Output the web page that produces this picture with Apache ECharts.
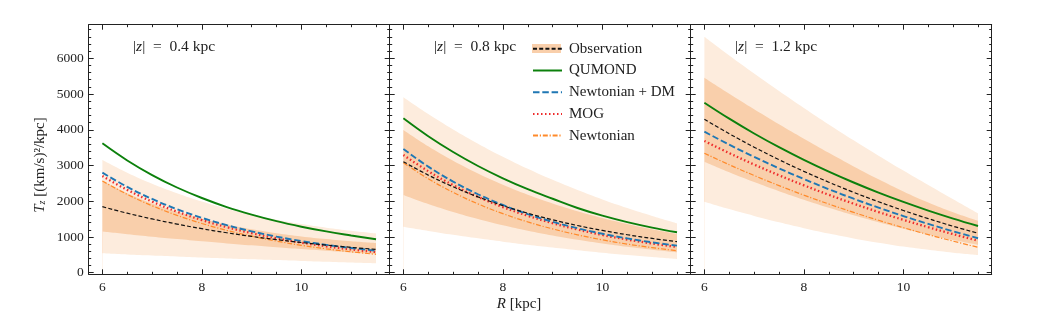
<!DOCTYPE html>
<html>
<head>
<meta charset="utf-8">
<title>T_z profiles</title>
<script src="https://cdn.jsdelivr.net/npm/echarts@6/dist/echarts.min.js"></script>
<style>
  html, body { margin: 0; padding: 0; background: #fff; }
  #chart { width: 1038px; height: 320px; }
</style>
</head>
<body>
<div id="chart"></div>
<script>
// galactocentric radius R (kpc), shared by every curve
var radius = [6, 6.5, 7, 7.5, 8, 8.5, 9, 9.5, 10, 10.5, 11, 11.5];
var zLabels = ['0.4', '0.8', '1.2'];
var xTicks = [6, 8, 10];
var xMinor = [6.5, 7, 7.5, 8.5, 9, 9.5, 10.5, 11, 11.5];
var yTicks = [0, 1000, 2000, 3000, 4000, 5000, 6000];
var yMinor = [200, 400, 600, 800, 1200, 1400, 1600, 1800, 2200, 2400, 2600, 2800, 3200, 3400, 3600, 3800,
  4200, 4400, 4600, 4800, 5200, 5400, 5600, 5800, 6200, 6400, 6600, 6800];

// |z| = 0.4 kpc
var obs04      = [1847, 1665, 1504, 1360, 1231, 1117, 1016, 925, 845, 773, 709, 653];
var qumond04   = [3620, 3141, 2732, 2384, 2090, 1837, 1625, 1441, 1287, 1155, 1042, 935];
var newtDM04   = [2800, 2401, 2063, 1777, 1535, 1330, 1157, 1010, 885, 780, 691, 616];
var mog04      = [2706, 2317, 1988, 1709, 1473, 1274, 1105, 962, 841, 738, 651, 578];
var newt04     = [2566, 2191, 1873, 1605, 1377, 1185, 1022, 884, 767, 668, 584, 514];
var outerHi04  = [3154, 2800, 2490, 2225, 1990, 1790, 1620, 1480, 1360, 1260, 1175, 1100];
var innerHi04  = [2570, 2224, 1938, 1702, 1507, 1347, 1214, 1105, 1015, 941, 879, 829];
var innerLo04  = [1150, 1075, 1005, 940, 878, 820, 765, 712, 660, 612, 565, 520];
var outerLo04  = [543, 510, 482, 455, 425, 398, 375, 352, 330, 308, 285, 263];

// |z| = 0.8 kpc
var obs08      = [3107, 2731, 2404, 2121, 1876, 1664, 1480, 1320, 1182, 1062, 958, 867];
var qumond08   = [4321, 3819, 3377, 2986, 2641, 2337, 2069, 1810, 1595, 1415, 1262, 1131];
var newtDM08   = [3462, 2968, 2549, 2195, 1895, 1641, 1426, 1244, 1090, 960, 849, 756];
var mog08      = [3294, 2840, 2452, 2120, 1836, 1593, 1385, 1208, 1056, 926, 815, 719];
var newt08     = [3079, 2629, 2248, 1925, 1652, 1421, 1226, 1060, 920, 801, 701, 616];
var outerHi08  = [4909, 4439, 4007, 3610, 3244, 2907, 2598, 2313, 2051, 1810, 1588, 1383];
var innerHi08  = [3994, 3536, 3132, 2776, 2461, 2183, 1938, 1722, 1531, 1363, 1214, 1083];
var innerLo08  = [2175, 1923, 1700, 1504, 1330, 1177, 1042, 923, 818, 725, 643, 571];
var outerLo08  = [1287, 1170, 1061, 961, 868, 782, 702, 628, 559, 496, 438, 383];

// |z| = 1.2 kpc
var obs12      = [4293, 3889, 3513, 3162, 2836, 2533, 2249, 1986, 1741, 1513, 1300, 1103];
var qumond12   = [4758, 4311, 3896, 3512, 3157, 2828, 2524, 2241, 1980, 1738, 1515, 1307];
var newtDM12   = [3946, 3582, 3241, 2920, 2619, 2336, 2070, 1820, 1585, 1365, 1158, 963];
var mog12      = [3686, 3346, 3027, 2727, 2445, 2180, 1931, 1697, 1478, 1272, 1079, 896];
var newt12     = [3342, 3021, 2720, 2437, 2171, 1922, 1687, 1467, 1260, 1065, 883, 711];
var outerHi12  = [6605, 6080, 5575, 5085, 4610, 4150, 3705, 3275, 2860, 2455, 2055, 1662];
var innerHi12  = [5458, 5010, 4575, 4155, 3750, 3355, 2975, 2615, 2275, 1965, 1690, 1450];
var innerLo12  = [3107, 2810, 2535, 2280, 2040, 1815, 1605, 1410, 1230, 1065, 915, 780];
var outerLo12  = [1987, 1780, 1590, 1410, 1245, 1095, 960, 840, 730, 640, 560, 495];

var panels = [
  { obs: obs04, qumond: qumond04, newtDM: newtDM04, mog: mog04, newt: newt04,
    outerHi: outerHi04, innerHi: innerHi04, innerLo: innerLo04, outerLo: outerLo04 },
  { obs: obs08, qumond: qumond08, newtDM: newtDM08, mog: mog08, newt: newt08,
    outerHi: outerHi08, innerHi: innerHi08, innerLo: innerLo08, outerLo: outerLo08 },
  { obs: obs12, qumond: qumond12, newtDM: newtDM12, mog: mog12, newt: newt12,
    outerHi: outerHi12, innerHi: innerHi12, innerLo: innerLo12, outerLo: outerLo12 }
];

var SERIF = '"Liberation Serif", "DejaVu Serif", serif';
var INK = '#222';
var OUTER = '#fdecdd';
var INNER = '#f9cfab';
var gridLeft = [88.7, 389.7, 690.7];

var styles = {
  'Observation':    { color: '#111111', width: 1.2, type: [4, 2.2] },
  'QUMOND':         { color: '#0c800c', width: 1.9, type: 'solid' },
  'Newtonian + DM': { color: '#1f77b4', width: 1.9, type: [6.5, 2.8] },
  'MOG':            { color: '#ee2b2b', width: 2.3, type: [1.5, 2.5] },
  'Newtonian':      { color: '#ff8a2a', width: 1.2, type: [5, 1.8, 1.2, 1.8] }
};

function pairs(vals) {
  return radius.map(function (r, i) { return [r, vals[i]]; });
}

function xAx(p, pos, ticks, len, labels, line) {
  return {
    type: 'value', gridIndex: p, position: pos, min: 5.725, max: 11.775, z: 10,
    axisLine: { show: line, onZero: false, lineStyle: { color: INK, width: 1 } },
    axisTick: { show: true, inside: true, length: len, customValues: ticks, lineStyle: { color: INK, width: 1 } },
    axisLabel: { show: labels, customValues: ticks, margin: 6, color: INK, fontFamily: SERIF, fontSize: 13.5,
      formatter: function (v) { return String(v); } },
    splitLine: { show: false }
  };
}
function yAx(p, pos, ticks, len, labels, line) {
  return {
    type: 'value', gridIndex: p, position: pos, min: -45, max: 6940, z: 10,
    axisLine: { show: line, onZero: false, lineStyle: { color: INK, width: 1 } },
    axisTick: { show: true, inside: true, length: len, customValues: ticks, lineStyle: { color: INK, width: 1 } },
    axisLabel: { show: labels, customValues: ticks, margin: 5, color: INK, fontFamily: SERIF, fontSize: 13.5,
      formatter: function (v) { return String(v); } },
    splitLine: { show: false }
  };
}

var grids = [], xAxes = [], yAxes = [], series = [], graphics = [];

panels.forEach(function (d, p) {
  grids.push({ left: gridLeft[p], top: 24.7, width: 301, height: 249.6, outerBoundsMode: 'none' });

  xAxes.push(xAx(p, 'bottom', xTicks, 5, true, true));
  xAxes.push(xAx(p, 'bottom', xMinor, 2.5, false, false));
  xAxes.push(xAx(p, 'top', xTicks, 5, false, true));
  xAxes.push(xAx(p, 'top', xMinor, 2.5, false, false));

  yAxes.push(yAx(p, 'left', yTicks, 5, p === 0, true));
  yAxes.push(yAx(p, 'left', yMinor, 2.5, false, false));
  yAxes.push(yAx(p, 'right', yTicks, 5, false, true));
  yAxes.push(yAx(p, 'right', yMinor, 2.5, false, false));

  var base = { type: 'line', xAxisIndex: 4 * p, yAxisIndex: 4 * p, symbol: 'none',
    smooth: 0.4, animation: false };

  // observational bands: layered fills down to the axis bottom,
  // each edge painted over the previous one (outer top, inner top, inner bottom, outer bottom)
  var fills = [[d.outerHi, OUTER, 'band'], [d.innerHi, INNER, '_ih'], [d.innerLo, OUTER, '_il'], [d.outerLo, '#ffffff', '_ol']];
  fills.forEach(function (f) {
    series.push(Object.assign({}, base, { name: f[2], data: pairs(f[0]), silent: true, z: 1,
      lineStyle: { width: 0, opacity: 0 }, itemStyle: { color: f[1] },
      areaStyle: { color: f[1], opacity: 1, origin: 'start' } }));
  });

  var lines = [['Newtonian', d.newt], ['MOG', d.mog], ['Newtonian + DM', d.newtDM],
    ['QUMOND', d.qumond], ['Observation', d.obs]];
  lines.forEach(function (l) {
    var s = styles[l[0]];
    series.push(Object.assign({}, base, { name: l[0], data: pairs(l[1]), z: 3,
      itemStyle: { color: s.color },
      lineStyle: { color: s.color, width: s.width, type: s.type } }));
  });

  graphics.push({
    type: 'text', x: [133, 434, 735][p], y: 47,
    style: {
      text: '|{i|z}|  =  ' + zLabels[p] + ' kpc',
      rich: { i: { fontStyle: 'italic', fontFamily: SERIF, fontSize: 15.5, fill: INK } },
      fontFamily: SERIF, fontSize: 15.5, fill: INK,
      textVerticalAlign: 'middle', verticalAlign: 'middle'
    }
  });
});

graphics.push({
  type: 'text', x: 519, y: 304,
  style: {
    text: '{i|R} [kpc]',
    rich: { i: { fontStyle: 'italic', fontFamily: SERIF, fontSize: 15, fill: INK } },
    fontFamily: SERIF, fontSize: 15, fill: INK,
    textAlign: 'center', align: 'center', textVerticalAlign: 'middle', verticalAlign: 'middle'
  }
});
graphics.push({
  type: 'text', x: 40, y: 165, rotation: Math.PI / 2,
  style: {
    text: '{i|T}{s|z} [(km/s)²/kpc]',
    rich: {
      i: { fontStyle: 'italic', fontFamily: SERIF, fontSize: 15, fill: INK },
      s: { fontStyle: 'italic', fontFamily: SERIF, fontSize: 10, fill: INK, verticalAlign: 'bottom' }
    },
    fontFamily: SERIF, fontSize: 15, fill: INK,
    textAlign: 'center', align: 'center', textVerticalAlign: 'middle', verticalAlign: 'middle'
  }
});

var chart = echarts.init(document.getElementById('chart'), null, { renderer: 'canvas' });
chart.setOption({
  backgroundColor: '#fff',
  animation: false,
  grid: grids,
  xAxis: xAxes,
  yAxis: yAxes,
  legend: [
    { // shaded patch behind the observation handle
      left: 527, top: 39, orient: 'vertical', itemWidth: 29, itemHeight: 9,
      selectedMode: false, z: 3, formatter: function () { return ''; },
      data: [{ name: 'band', icon: 'rect', itemStyle: { color: INNER, opacity: 1 } }]
    },
    {
      left: 527, top: 36.3, orient: 'vertical', itemWidth: 29, itemHeight: 14, itemGap: 6.7,
      selectedMode: false, z: 5, itemStyle: { opacity: 0 },
      textStyle: { fontFamily: SERIF, fontSize: 15, color: INK, lineHeight: 14, padding: [0, 0, 0, 2] },
      data: ['Observation', 'QUMOND', 'Newtonian + DM', 'MOG', 'Newtonian']
    }
  ],
  series: series,
  graphic: graphics
});
</script>
</body>
</html>
